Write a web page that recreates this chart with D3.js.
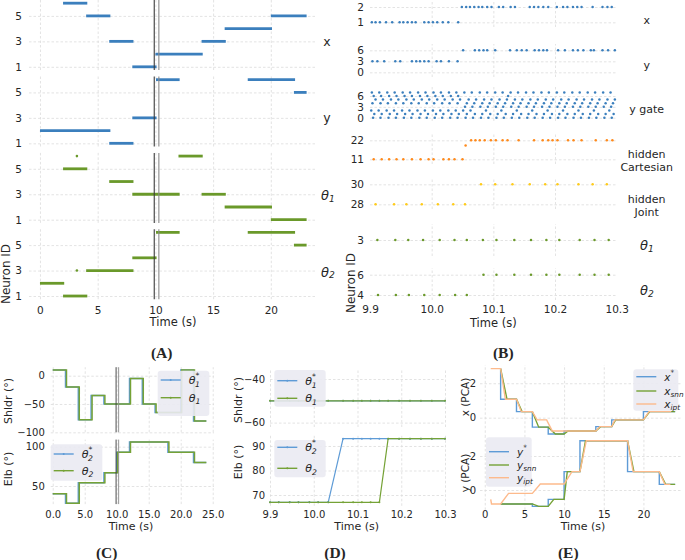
<!DOCTYPE html>
<html><head><meta charset="utf-8">
<script src="https://cdn.jsdelivr.net/npm/d3@7"></script>
<style>body{margin:0;background:#fff}</style>
</head><body><svg id="c" width="685" height="560"></svg>
<script>
// ---------------- DATA ----------------
// Panel A : spike-raster segments [start(s), end(s), neuron]
const aTimeTicks=[0,5,10,15,20];
const aNeuronTicks=[1,3,5];
const aMarks=[9.9,10.3];
const aXSegs=[[2,4.1,6],[4,6.1,5],[20,23.1,5],[16,20.1,4],[6,8.1,3],[14,16.1,3],[10,14.1,2],[8,10.1,1]];
const aYSegs=[[10.05,12.1,6],[18,22.1,6],[22,23.1,5],[8,10.1,3],[0,6.1,2],[6,8.1,1]];
const aT1Segs=[[12,14.1,6],[2,4.1,5],[6,8.1,4],[8,12.1,3],[14,16.1,3],[16,20.1,2],[20,23.1,1]];
const aT1Dots=[[3.2,6]];
const aT2Segs=[[10.05,12.1,6],[18,22.1,6],[22,23.1,5],[8,10.1,4],[4,8.1,3],[0,2.1,2],[2,4.1,1]];
const aT2Dots=[[3.2,3]];

// Panel B : spike times per neuron
const bTimeTicks=[9.9,10.0,10.1,10.2,10.3];
const bX1=[9.903,9.909,9.916,9.926,9.936,9.948,9.954,9.961,9.968,9.974,9.988,9.995,10.002,10.009,10.018,10.027,10.043];
const bX2=[10.049,10.056,10.062,10.069,10.076,10.082,10.090,10.097,10.109,10.116,10.128,10.135,10.159,10.166,10.173,10.181,10.189,10.203,10.213,10.220,10.229,10.236,10.243,10.261,10.277,10.285,10.292];
const bY3=[9.904,9.912,9.923,9.941,9.949,9.968,9.975,9.981,9.988,9.995,10.008,10.015,10.028,10.042];
const bY6=[10.051,10.070,10.077,10.084,10.090,10.103,10.127,10.138,10.146,10.154,10.167,10.174,10.181,10.187,10.205,10.216,10.229,10.237,10.246,10.258,10.263,10.277,10.286,10.297];
const bG7=[9.903,9.915,9.928,9.940,9.953,9.965,9.978,9.990,10.003,10.015,10.028,10.040,10.053,10.065,10.078,10.090,10.103,10.115,10.128,10.140,10.153,10.165,10.178,10.190,10.203,10.215,10.228,10.240,10.253,10.265,10.278,10.290];
const bG6=[9.906,9.918,9.931,9.943,9.956,9.968,9.981,9.993,10.006,10.018,10.031,10.043,10.124];
const bG5=[9.909,9.921,9.934,9.946,9.959,9.971,9.984,9.996,10.009,10.021,10.034,10.046,10.060,10.072,10.085,10.097,10.110,10.122,10.135,10.147,10.160,10.172,10.185,10.197,10.210,10.222,10.235,10.247,10.260,10.272,10.285,10.297];
const bG4=[9.904,9.917,9.929,9.942,9.954,9.967,9.979,9.992,10.004,10.017,10.029,10.042,10.057,10.069,10.082,10.094,10.107,10.119,10.132,10.144,10.157,10.169,10.182,10.194,10.207,10.219,10.232,10.244,10.257,10.269,10.282,10.294];
const bG3=[10.054,10.066,10.079,10.091,10.104,10.116,10.129,10.141,10.154,10.166,10.179,10.191,10.204,10.216,10.229,10.241,10.254,10.266,10.279,10.291];
const bG2=[9.902,9.914,9.927,9.939,9.952,9.964,9.977,9.989,10.002,10.014,10.027,10.039,10.051,10.063,10.088,10.113,10.138,10.163,10.188,10.213,10.238,10.263,10.288];
const bG1=[9.907,9.919,9.932,9.944,9.957,9.969,9.982,9.994,10.007,10.019,10.032,10.044,10.057,10.070,10.082,10.095,10.107,10.120,10.132,10.145,10.157,10.170,10.182,10.195,10.207,10.220,10.232,10.245,10.257,10.270,10.282,10.295];
const bG0=[9.905,9.917,9.930,9.942,9.955,9.967,9.980,9.992,10.005,10.017,10.030,10.042,10.055,10.067,10.080,10.092,10.105,10.117,10.130,10.142,10.155,10.167,10.180,10.192,10.205,10.217,10.230,10.242,10.255,10.267,10.280,10.292];
const bHC11=[9.906,9.919,9.931,9.943,9.954,9.968,9.982,9.995,10.003,10.019,10.028,10.037,10.050];
const bHC19=[10.055];
const bHC22=[10.064,10.071,10.078,10.086,10.096,10.104,10.115,10.123,10.141,10.166,10.180,10.189,10.196,10.204,10.221,10.230,10.243,10.266,10.284,10.293];
const bHJ28=[9.909,9.939,9.959,9.984,10.010,10.035,10.054];
const bHJ30=[10.080,10.103,10.131,10.159,10.184,10.204,10.238,10.261,10.284];
const bT1_3=[9.912,9.941,9.962,9.986,10.013,10.037,10.057,10.083,10.105,10.134,10.161,10.186,10.207,10.240,10.264,10.287];
const bT2_4=[9.913,9.942,9.963,9.988,10.013,10.038,10.057];
const bT2_6=[10.084,10.105,10.134,10.161,10.186,10.207,10.240,10.264,10.287];

// Panel C : joint angle step targets (deg)
const cTimeTicks=[0,5,10,15,20,25];
const cStepT=[0,2,4,6,8,10,12,14,16,18,20,22,24];
const cStepTSnn=[0,2.15,4.15,6.15,8.15,10.15,12.15,14.15,16.15,18.15,20.15,22.15,24];
const cShldrStar=[10,-20,-78,-35,-50,-50,-5,-50,-65,-65,10,-80,-80];
const cShldr=[10,-20,-78,-35,-50,-50,-5,-50,-65,-65,10,-80,-80];
const cElbStar=[40,28,54,54,67,93,106,106,106,93,93,80,80];
const cElb=[40,28,54,54,67,93,106,106,106,93,93,80,80];

// Panel D : zoom 9.9-10.3 s
const dTimeTicks=[9.9,10.0,10.1,10.2,10.3];
const dT=[9.900,9.920,9.945,9.965,9.990,10.010,10.033,10.067,10.090,10.110,10.130,10.150,10.170,10.195,10.220,10.245,10.270,10.300];
const dShldrStar=[-50,-50,-50,-50,-50,-50,-50,-50,-50,-50,-50,-50,-50,-50,-50,-50,-50,-50];
const dShldr=[-50,-50,-50,-50,-50,-50,-50,-50,-50,-50,-50,-50,-50,-50,-50,-50,-50,-50];
const dElbStar=[67,67,67,67,67,67,67,93,93,93,93,93,93,93,93,93,93,93];
const dElb=[67,67,67,67,67,67,67,67,67,67,67,67,93,93,93,93,93,93];

// Panel E : PCA trajectories [t, value]
const eTimeTicks=[0,5,10,15,20];
const eXStar=[[2,2.85],[2,1.07],[4,1.07],[4,0.35],[6,0.35],[6,-0.55],[8,-0.55],[8,-0.95],[10,-0.95],[10,-0.77],[14,-0.77],[14,-0.52],[16,-0.52],[16,-0.13],[20,-0.13],[20,0.35],[24,0.35]];
const eXSnn=[[2,2.85],[2.8,1.07],[4,1.07],[4.7,0.35],[6,0.35],[6.8,-0.55],[8,-0.55],[8.9,-0.95],[10,-0.95],[10.5,-0.77],[14,-0.77],[14.6,-0.52],[16,-0.52],[16.5,-0.13],[20,-0.13],[20.8,0.35],[24,0.35]];
const eXIpt=[[0.75,2.85],[2,2.85],[2.6,1.07],[4,1.07],[4.6,0.35],[6,0.35],[6.6,-0.13],[7.8,-0.13],[8.5,-0.77],[10,-0.77],[10.6,-0.77],[14,-0.77],[14.5,-0.52],[16,-0.52],[16.4,-0.13],[20,-0.13],[20.7,0.35],[23.5,0.35]];
const eYStar=[[2,-0.82],[6,-0.82],[6,-0.96],[8,-0.96],[8,-0.55],[10,-0.55],[10,1.08],[12,1.08],[12,2.9],[18,2.9],[18,1.08],[22,1.08],[22,0.33],[24,0.33]];
const eYSnn=[[2,-0.82],[6,-0.82],[6.8,-0.96],[8,-0.96],[8.7,-0.55],[10,-0.55],[10.4,1.08],[12,1.08],[12.7,2.9],[18,2.9],[18.8,1.08],[22,1.08],[22.8,0.33],[24,0.33]];
const eYIpt=[[0.75,-0.55],[0.85,-0.82],[2,-0.82],[3,-0.2],[6,-0.2],[7,0.35],[10,0.35],[11,1.08],[12,1.08],[12.8,2.9],[18,2.9],[18.7,1.08],[22,1.08],[22.7,0.33],[23.4,0.33]];

// ---------------- DRAW ----------------
const svg=d3.select("#c");
const FONT="DejaVu Sans";
const BLUE="#3b7fbd",GREEN="#6a992a",ORANGE="#ff8a1c",GOLD="#ffcb1a";
const LBLUE="#5e9bd6",LGREEN="#75a236",LORANGE="#fdba8c";
const GRID="#dcdcdc",TXT="#262626";

function styleAxis(a){a.select(".domain").remove();
  a.selectAll(".tick line").attr("stroke",GRID).attr("stroke-width",0.8).attr("stroke-dasharray","2.5,2");
  a.selectAll(".tick text").attr("fill",TXT);}
function yAxis(y,ticks,left,width,fs,pad,fmt){
  const a=svg.append("g").attr("transform",`translate(${left},0)`)
    .call(d3.axisLeft(y).tickValues(ticks).tickSize(-width).tickSizeOuter(0).tickPadding(pad).tickFormat(fmt||d3.format("d")));
  a.attr("font-size",fs).attr("font-family",FONT);styleAxis(a);return a;}
function xGrid(x,ticks,top,bottom){
  const a=svg.append("g").attr("transform",`translate(0,${bottom})`)
    .call(d3.axisBottom(x).tickValues(ticks).tickSize(-(bottom-top)).tickSizeOuter(0).tickFormat(""));
  styleAxis(a);return a;}
function xLabels(x,ticks,cy,fs,fmt){
  const a=svg.append("g").attr("transform",`translate(0,${cy-0.36*fs})`)
    .call(d3.axisBottom(x).tickValues(ticks).tickSize(0).tickPadding(0).tickFormat(fmt));
  a.attr("font-size",fs).attr("font-family",FONT);a.select(".domain").remove();
  a.selectAll(".tick text").attr("fill",TXT);return a;}
function text(x,y,s,fs,opt={}){
  const t=svg.append("text").attr("x",x).attr("y",y).attr("font-family",opt.family||FONT)
    .attr("font-size",fs).attr("fill",TXT).attr("text-anchor",opt.anchor||"middle")
    .attr("dominant-baseline","central");
  if(opt.weight)t.attr("font-weight",opt.weight);
  if(opt.rotate)t.attr("transform",`rotate(-90,${x},${y})`);
  if(s!==null)t.text(s);return t;}
function math(x,y,base,sub,sup,fs,anchor){
  const t=text(x,y,null,fs,{anchor:anchor||"start"});
  t.append("tspan").attr("font-style","italic").text(base);
  if(sup)t.append("tspan").attr("font-size",fs*0.7).attr("dy",-fs*0.45).text(sup);
  if(sub)t.append("tspan").attr("font-size",fs*0.7).attr("font-style","italic")
     .attr("dx",sup?-fs*0.38:0).attr("dy",sup?fs*0.8:fs*0.3).text(sub);
  return t;}

// ===== Panel A =====
const xA=d3.scaleLinear().domain([-0.95,24.0]).range([29,317]);
const aTops=[0,76.5,152.9,229.2],aH=70;
const aPanels=[{segs:aXSegs,dots:[],c:BLUE,lab:["x",null]},{segs:aYSegs,dots:[],c:BLUE,lab:["y",null]},
  {segs:aT1Segs,dots:aT1Dots,c:GREEN,lab:["θ","1"]},{segs:aT2Segs,dots:aT2Dots,c:GREEN,lab:["θ","2"]}];
aPanels.forEach((p,i)=>{
  const top=aTops[i],bot=top+aH;
  const y=d3.scaleLinear().domain([0.75,6.25]).range([bot,top]);
  xGrid(xA,aTimeTicks,top,bot);
  yAxis(y,aNeuronTicks,29,288,10.5,7);
  svg.append("g").selectAll("line").data(p.segs).join("line")
    .attr("x1",d=>xA(d[0])).attr("x2",d=>xA(d[1])).attr("y1",d=>y(d[2])).attr("y2",d=>y(d[2]))
    .attr("stroke",p.c).attr("stroke-width",2.8);
  svg.append("g").selectAll("circle").data(p.dots).join("circle")
    .attr("cx",d=>xA(d[0])).attr("cy",d=>y(d[1])).attr("r",1.3).attr("fill",p.c);
  svg.append("g").selectAll("line").data(aMarks).join("line")
    .attr("x1",d=>xA(d)).attr("x2",d=>xA(d)).attr("y1",top).attr("y2",bot)
    .attr("stroke",(d,j)=>j?"#8a8a8a":"#3a3a3a").attr("stroke-width",1.1);
  if(p.lab[1])math(321,y(3)+1,p.lab[0],p.lab[1],null,13,"start");
  else text(327,y(3),p.lab[0],12.5);
});
xLabels(xA,aTimeTicks,310,10.5,d3.format("d"));
text(173,322,"Time (s)",11.5);
text(6,274,"Neuron ID",12,{rotate:true});

// ===== Panel B =====
const xB=d3.scaleLinear().domain([9.9,10.3]).range([370,616.7]);
const bPanels=[
 {ticks:[1,2],a:[[1,22.3],[2,7]],box:[0,27],rows:[[1,bX1],[2,bX2]],c:BLUE,lab:[["x",20]]},
 {ticks:[0,3,6],a:[[0,72.3],[6,50.3]],box:[44,77],rows:[[3,bY3],[6,bY6]],c:BLUE,lab:[["y",65.7]]},
 {ticks:[0,3,6],a:[[0,117.7],[6,96]],box:[87,121],rows:[[0,bG0],[1,bG1],[2,bG2],[3,bG3],[4,bG4],[5,bG5],[6,bG6],[7,bG7]],c:BLUE,lab:[["y gate",109.3]]},
 {ticks:[11,22],a:[[11,159.3],[22,140.3]],box:[134,164],rows:[[11,bHC11],[19,bHC19],[22,bHC22]],c:ORANGE,lab:[["hidden",154.5],["Cartesian",167.5]]},
 {ticks:[28,30],a:[[28,204.3],[30,184.3]],box:[178,209],rows:[[28,bHJ28],[30,bHJ30]],c:GOLD,lab:[["hidden",199.5],["Joint",212.7]]},
 {ticks:[3],a:[[2,255],[3,240]],box:[224,256],rows:[[3,bT1_3]],c:GREEN,math:["θ","1",245]},
 {ticks:[4,6],a:[[4,295],[6,274.7]],box:[268,300],rows:[[4,bT2_4],[6,bT2_6]],c:GREEN,math:["θ","2",290]}];
bPanels.forEach(p=>{
  const y=d3.scaleLinear().domain([p.a[0][0],p.a[1][0]]).range([p.a[0][1],p.a[1][1]]);
  xGrid(xB,[10.0,10.1,10.2],p.box[0],p.box[1]);
  yAxis(y,p.ticks,370,246.7,10.5,6);
  const pts=p.rows.flatMap(r=>r[1].map(t=>[t,r[0]]));
  svg.append("g").selectAll("circle").data(pts).join("circle")
    .attr("cx",d=>xB(d[0])).attr("cy",d=>y(d[1])).attr("r",1.25).attr("fill",p.c);
  if(p.lab)p.lab.forEach(l=>text(646.7,l[1],l[0],11));
  if(p.math)math(640,p.math[2],p.math[0],p.math[1],null,13,"start");
});
xLabels(xB,bTimeTicks,309.3,10.5,d3.format(".1f"));
text(493.3,323.3,"Time (s)",11.5);
text(351,283,"Neuron ID",12,{rotate:true});

// ===== Panel labels =====
[["(A)",161.7,352.7],["(B)",503.3,352.7],["(C)",106.7,552.7],["(D)",335,552.7],["(E)",568.3,552.7]]
 .forEach(l=>text(l[1],l[2],l[0],15.5,{family:"Liberation Serif",weight:"bold"}));

// legend helper
function legend(x0,y0,w,h,items,fs){
  svg.append("rect").attr("x",x0).attr("y",y0).attr("width",w).attr("height",h).attr("rx",3)
    .attr("fill","#eaeaf2").attr("fill-opacity",0.9);
  items.forEach(it=>{
    svg.append("line").attr("x1",x0+3).attr("x2",x0+23).attr("y1",it.y).attr("y2",it.y)
      .attr("stroke",it.c).attr("stroke-width",1.4);
    if(it.mk)svg.append("circle").attr("cx",x0+13).attr("cy",it.y).attr("r",1).attr("fill",it.c);
    math(x0+31,it.y,it.base,it.sub,it.sup,fs,"start");
  });}
function stepPath(x,y,ts,vs,c,w,curve){
  svg.append("path").datum(ts.map((t,i)=>[t,vs[i]]))
    .attr("d",d3.line().x(d=>x(d[0])).y(d=>y(d[1])).curve(curve))
    .attr("fill","none").attr("stroke",c).attr("stroke-width",w);}

// ===== Panel C =====
const xC=d3.scaleLinear().domain([-0.3,25.2]).range([50.8,214]);
const yC1=d3.scaleLinear().domain([-100,15]).range([432.3,367.2]);
const yC2=d3.scaleLinear().domain([27,109]).range([504.1,439.6]);
xGrid(xC,cTimeTicks,367.2,432.3);xGrid(xC,cTimeTicks,439.6,504.1);
yAxis(yC1,[-100,-50,0],50.8,163.2,10,6,d3.format("d"));
yAxis(yC2,[50,100],50.8,163.2,10,6,d3.format("d"));
stepPath(xC,yC1,cStepT,cShldrStar,LBLUE,1.5,d3.curveStepAfter);
stepPath(xC,yC1,cStepTSnn,cShldr,LGREEN,1.5,d3.curveStepAfter);
stepPath(xC,yC2,cStepT,cElbStar,LBLUE,1.5,d3.curveStepAfter);
stepPath(xC,yC2,cStepTSnn,cElb,LGREEN,1.5,d3.curveStepAfter);
[[367.2,432.3],[439.6,504.1]].forEach(b=>{
  svg.append("g").selectAll("line").data(aMarks).join("line")
   .attr("x1",d=>xC(d)).attr("x2",d=>xC(d)).attr("y1",b[0]).attr("y2",b[1])
   .attr("stroke",(d,j)=>j?"#8a8a8a":"#3a3a3a").attr("stroke-width",0.9);});
legend(157.7,370.7,51.6,45.3,[{y:380,c:LBLUE,base:"θ",sub:"1",sup:"*",mk:1},{y:397.7,c:LGREEN,base:"θ",sub:"1",mk:1}],11);
legend(50.7,444.3,51.6,36.4,[{y:454,c:LBLUE,base:"θ",sub:"2",sup:"*",mk:1},{y:470.7,c:LGREEN,base:"θ",sub:"2",mk:1}],11);
xLabels(xC,cTimeTicks,514,10,d3.format(".1f"));
text(131,526,"Time (s)",11);
text(8,401,"Shldr (°)",11,{rotate:true});
text(8,469,"Elb (°)",11,{rotate:true});

// ===== Panel D =====
const xD=d3.scaleLinear().domain([9.9,10.3]).range([270,445]);
const yD1=d3.scaleLinear().domain([-62,-35.5]).range([427,369.2]);
const yD2=d3.scaleLinear().domain([65.6,94.2]).range([505.8,435.7]);
xGrid(xD,dTimeTicks,369.2,427);xGrid(xD,dTimeTicks,435.7,505.8);
yAxis(yD1,[-60,-40],270,175,10,5,d3.format("d"));
yAxis(yD2,[70,80,90],270,175,10,5,d3.format("d"));
[[yD1,dShldrStar,dShldr],[yD2,dElbStar,dElb]].forEach(s=>{
  stepPath(xD,s[0],dT,s[1],LBLUE,1.2,d3.curveLinear);
  stepPath(xD,s[0],dT,s[2],LGREEN,1.2,d3.curveLinear);
  svg.append("g").selectAll("circle").data(dT).join("circle")
    .attr("cx",d=>xD(d)).attr("cy",(d,i)=>s[0](s[1][i])).attr("r",1).attr("fill",LBLUE);
  svg.append("g").selectAll("circle").data(dT).join("circle")
    .attr("cx",d=>xD(d)).attr("cy",(d,i)=>s[0](s[2][i])).attr("r",1).attr("fill",LGREEN);
});
legend(274.3,370,51.4,36.7,[{y:380.7,c:LBLUE,base:"θ",sub:"1",sup:"*",mk:1},{y:398.3,c:LGREEN,base:"θ",sub:"1",mk:1}],11);
legend(274.3,440,51.4,37.3,[{y:447.3,c:LBLUE,base:"θ",sub:"2",sup:"*",mk:1},{y:468.3,c:LGREEN,base:"θ",sub:"2",mk:1}],11);
xLabels(xD,dTimeTicks,514,10,d3.format(".1f"));
text(356.7,526,"Time (s)",11);
text(238,400,"Shldr (°)",11,{rotate:true});
text(238,462,"Elb (°)",11,{rotate:true});

// ===== Panel E =====
const xE=d3.scaleLinear().domain([-0.6,24.8]).range([480,681.5]);
const yE1=d3.scaleLinear().domain([-1.14,3.06]).range([437.3,365]);
const yE2=d3.scaleLinear().domain([-1.17,3.1]).range([509.9,437.3]);
xGrid(xE,eTimeTicks,365,437.3);xGrid(xE,eTimeTicks,437.3,509.9);
yAxis(yE1,[0,2],480,201.5,10,4,d3.format("d"));
yAxis(yE2,[0,2],480,201.5,10,4,d3.format("d"));
function ePath(y,data,c){svg.append("path").datum(data)
  .attr("d",d3.line().x(d=>xE(d[0])).y(d=>y(d[1])))
  .attr("fill","none").attr("stroke",c).attr("stroke-width",1.4);}
ePath(yE1,eXStar,LBLUE);ePath(yE1,eXSnn,LGREEN);ePath(yE1,eXIpt,LORANGE);
ePath(yE2,eYStar,LBLUE);ePath(yE2,eYSnn,LGREEN);ePath(yE2,eYIpt,LORANGE);
legend(633.3,369.3,45,41.4,[{y:376.7,c:LBLUE,base:"x",sup:"*"},{y:391,c:LGREEN,base:"x",sub:"snn"},{y:404,c:LORANGE,base:"x",sub:"ipt"}],10.5);
legend(486,437.3,45.7,49.4,[{y:451.7,c:LBLUE,base:"y",sup:"*"},{y:465,c:LGREEN,base:"y",sub:"snn"},{y:477.7,c:LORANGE,base:"y",sub:"ipt"}],10.5);
xLabels(xE,eTimeTicks,514,10,d3.format("d"));
text(583,526,"Time (s)",11);
text(465,397,"x (PCA)",10.5,{rotate:true});
text(465,473,"y (PCA)",10.5,{rotate:true});
</script></body></html>
